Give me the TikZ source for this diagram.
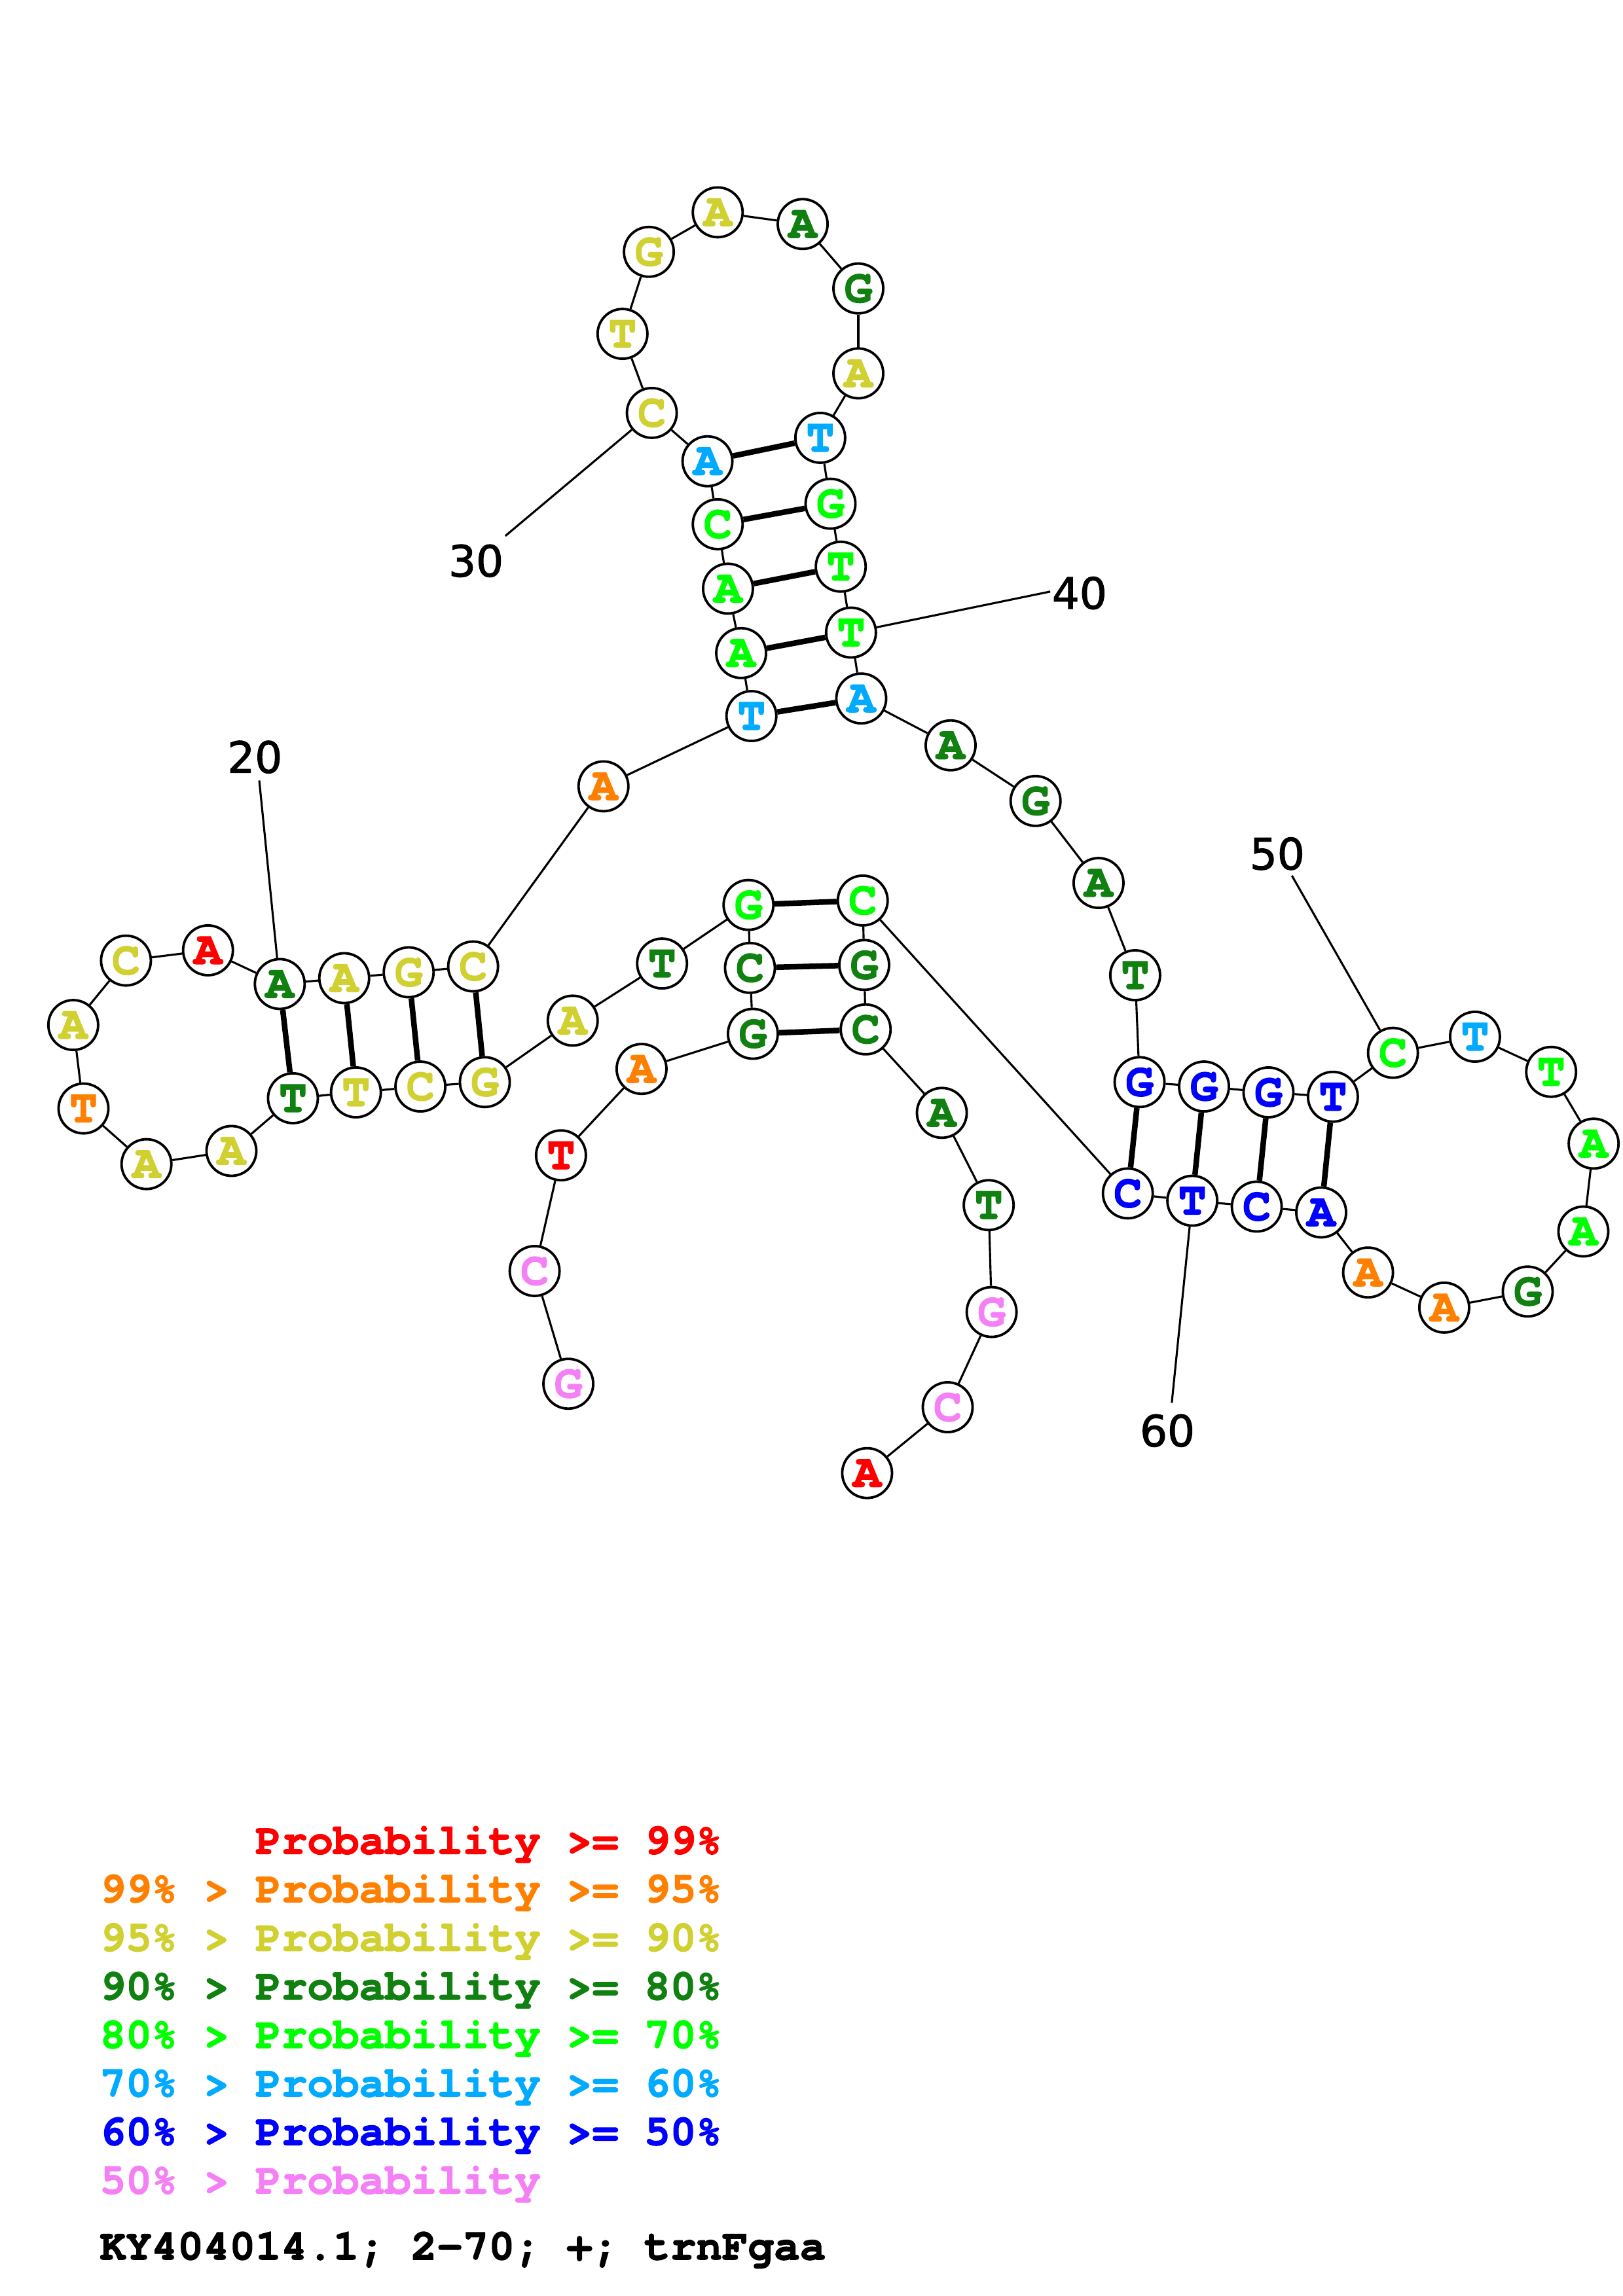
\documentclass[tikz,border=0pt]{standalone}
\usepackage{fontspec}
\newfontfamily\cour{texgyrecursor-bold.otf}[FakeBold=2]
\newfontfamily\numf{DejaVu Sans}[FakeBold=1.6]
\definecolor{pr}{RGB}{255,0,0}
\definecolor{po}{RGB}{255,128,0}
\definecolor{py}{RGB}{208,208,48}
\definecolor{pd}{RGB}{16,128,16}
\definecolor{pg}{RGB}{0,255,0}
\definecolor{pc}{RGB}{0,170,255}
\definecolor{pb}{RGB}{0,0,255}
\definecolor{pp}{RGB}{245,128,245}
\tikzset{
  nt/.style={circle,draw=black,fill=white,line width=1.7pt,minimum size=34pt,inner sep=0pt,
    font=\cour\fontsize{32}{32}\selectfont},
  bb/.style={line width=1.4pt},
  bp/.style={line width=3.8pt},
  lbl/.style={inner sep=0pt,font=\numf\fontsize{29.5}{30}\selectfont},
  leg/.style={anchor=base west,inner sep=0pt,font=\cour\fontsize{29.5}{30}\selectfont}
}
\begin{document}
\begin{tikzpicture}[x=1pt,y=-1pt]
\useasboundingbox[fill=white] (0,0) rectangle (1108,1568);
% nucleotides
\node[nt,text=pp] (n1) at (388,945) {G};
\node[nt,text=pp] (n2) at (365,868) {C};
\node[nt,text=pr] (n3) at (383,789) {T};
\node[nt,text=po] (n4) at (438,730) {A};
\node[nt,text=pd] (n5) at (514,706) {G};
\node[nt,text=pd] (n6) at (512,661) {C};
\node[nt,text=pg] (n7) at (511,618) {G};
\node[nt,text=pd] (n8) at (452,658) {T};
\node[nt,text=py] (n9) at (391,697) {A};
\node[nt,text=py] (n10) at (331,739) {G};
\node[nt,text=py] (n11) at (287,742) {C};
\node[nt,text=py] (n12) at (243,746) {T};
\node[nt,text=pd] (n13) at (200,750) {T};
\node[nt,text=py] (n14) at (158,786) {A};
\node[nt,text=py] (n15) at (100,795) {A};
\node[nt,text=po] (n16) at (57,757) {T};
\node[nt,text=py] (n17) at (50,700) {A};
\node[nt,text=py] (n18) at (86,656) {C};
\node[nt,text=pr] (n19) at (142,649) {A};
\node[nt,text=pd] (n20) at (191,672) {A};
\node[nt,text=py] (n21) at (235,668) {A};
\node[nt,text=py] (n22) at (279,664) {G};
\node[nt,text=py] (n23) at (323,660) {C};
\node[nt,text=po] (n24) at (412,537) {A};
\node[nt,text=pc] (n25) at (513,489) {T};
\node[nt,text=pg] (n26) at (506,446) {A};
\node[nt,text=pg] (n27) at (497,402) {A};
\node[nt,text=pg] (n28) at (490,358) {C};
\node[nt,text=pc] (n29) at (483,315) {A};
\node[nt,text=py] (n30) at (445,282) {C};
\node[nt,text=py] (n31) at (425,228) {T};
\node[nt,text=py] (n32) at (443,172) {G};
\node[nt,text=py] (n33) at (490,145) {A};
\node[nt,text=pd] (n34) at (548,153) {A};
\node[nt,text=pd] (n35) at (586,197) {G};
\node[nt,text=py] (n36) at (586,255) {A};
\node[nt,text=pc] (n37) at (560,299) {T};
\node[nt,text=pg] (n38) at (567,344) {G};
\node[nt,text=pg] (n39) at (574,387) {T};
\node[nt,text=pg] (n40) at (581,432) {T};
\node[nt,text=pc] (n41) at (588,477) {A};
\node[nt,text=pd] (n42) at (649,509) {A};
\node[nt,text=pd] (n43) at (707,547) {G};
\node[nt,text=pd] (n44) at (750,603) {A};
\node[nt,text=pd] (n45) at (775,666) {T};
\node[nt,text=pb] (n46) at (778,739) {G};
\node[nt,text=pb] (n47) at (822,742) {G};
\node[nt,text=pb] (n48) at (866,746) {G};
\node[nt,text=pb] (n49) at (910,749) {T};
\node[nt,text=pg] (n50) at (951,719) {C};
\node[nt,text=pc] (n51) at (1007,708) {T};
\node[nt,text=pg] (n52) at (1059,732) {T};
\node[nt,text=pg] (n53) at (1088,781) {A};
\node[nt,text=pg] (n54) at (1081,841) {A};
\node[nt,text=pd] (n55) at (1043,882) {G};
\node[nt,text=po] (n56) at (986,893) {A};
\node[nt,text=po] (n57) at (934,869) {A};
\node[nt,text=pb] (n58) at (902,828) {A};
\node[nt,text=pb] (n59) at (858,824) {C};
\node[nt,text=pb] (n60) at (814,820) {T};
\node[nt,text=pb] (n61) at (770,815) {C};
\node[nt,text=pg] (n62) at (589,615) {C};
\node[nt,text=pd] (n63) at (590,659) {G};
\node[nt,text=pd] (n64) at (591,703) {C};
\node[nt,text=pd] (n65) at (643,760) {A};
\node[nt,text=pd] (n66) at (675,823) {T};
\node[nt,text=pp] (n67) at (677,896) {G};
\node[nt,text=pp] (n68) at (647,961) {C};
\node[nt,text=pr] (n69) at (592,1006) {A};
% backbone
\foreach \i [evaluate=\i as \j using int(\i+1)] in {1,...,68}
  \draw[bb] (n\i) -- (n\j);
% base pairs
\foreach \a/\b in {5/64,6/63,7/62,10/23,11/22,12/21,13/20,25/41,26/40,27/39,28/38,29/37,46/61,47/60,48/59,49/58}
  \draw[bp] (n\a) -- (n\b);
% position labels
\node[lbl] (l20) at (174,517) {20};
\node[lbl] (l30) at (325,383) {30};
\node[lbl] (l40) at (737,405) {40};
\node[lbl] (l50) at (872,583) {50};
\node[lbl] (l60) at (797,977) {60};
\coordinate (e20) at (177,533);
\coordinate (e30) at (345,366);
\coordinate (e40) at (717,404);
\coordinate (e50) at (882,598);
\coordinate (e60) at (800,958);
\draw[bb] (e20) -- (n20);
\draw[bb] (e30) -- (n30);
\draw[bb] (e40) -- (n40);
\draw[bb] (e50) -- (n50);
\draw[bb] (e60) -- (n60);
% legend
\node[leg,text=pr] (g1) at (174.2,1266) {Probability >= 99\%};
\node[leg,text=po] (g2) at (68,1299) {99\% > Probability >= 95\%};
\node[leg,text=py] (g3) at (68,1332.3) {95\% > Probability >= 90\%};
\node[leg,text=pd] (g4) at (68,1365.5) {90\% > Probability >= 80\%};
\node[leg,text=pg] (g5) at (68,1398.6) {80\% > Probability >= 70\%};
\node[leg,text=pc] (g6) at (68,1431.7) {70\% > Probability >= 60\%};
\node[leg,text=pb] (g7) at (68,1464.8) {60\% > Probability >= 50\%};
\node[leg,text=pp] (g8) at (68,1498) {50\% > Probability};
\node[leg,text=black] (g9) at (68,1543) {KY404014.1; 2-70; +; trnFgaa};
\end{tikzpicture}
\end{document}
